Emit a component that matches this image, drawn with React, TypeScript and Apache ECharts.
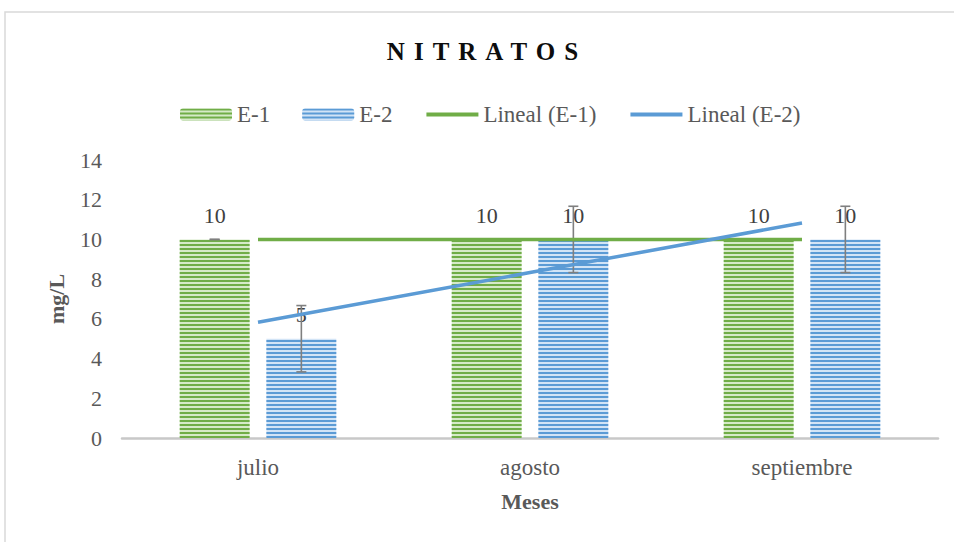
import React, { useEffect, useRef } from "react";
import * as echarts from "echarts";

const categories = ["julio", "agosto", "septiembre"];
const e1Values = [10, 10, 10];
const e2Values = [5, 10, 10];
const e1Errors = [0, 0, 0];
const e2Errors = [1.67, 1.67, 1.67];
const trendE1 = [10, 10, 10];
const trendE2 = [5.83, 8.33, 10.83];
const yTicks = { min: 0, max: 14, interval: 2 };

const SERIF = "'Liberation Serif', 'Times New Roman', serif";
const GREEN = "#70AD47";
const BLUE = "#5B9BD5";

function errData(vals: number[], errs: number[]) {
  return vals.map((v, i) => [i, v - errs[i], v + errs[i]]);
}

function makeErrSeries(name: string, vals: number[], errs: number[], sign: number) {
  return {
    type: "custom",
    name,
    z: 4,
    silent: true,
    data: errData(vals, errs),
    renderItem: (params: any, api: any) => {
      const cat = api.value(0);
      const low = api.value(1);
      const high = api.value(2);
      const band = api.size([1, 0])[0];
      const off = band * 0.1594 * sign;
      const pLow = api.coord([cat, low]);
      const pHigh = api.coord([cat, high]);
      const x = pLow[0] + off;
      const cap = 5;
      const st = { stroke: "#7f7f7f", lineWidth: 1.6 };
      return {
        type: "group",
        children: [
          { type: "line", shape: { x1: x, y1: pLow[1], x2: x, y2: pHigh[1] }, style: st },
          { type: "line", shape: { x1: x - cap, y1: pLow[1], x2: x + cap, y2: pLow[1] }, style: st },
          { type: "line", shape: { x1: x - cap, y1: pHigh[1], x2: x + cap, y2: pHigh[1] }, style: st },
        ],
      };
    },
  };
}

export default function App() {
  const ref = useRef<HTMLDivElement>(null);
  useEffect(() => {
    document.body.style.margin = "0";
    if (!ref.current) return;
    const chart = echarts.init(ref.current, null, { renderer: "svg" });
    const labelStyle = {
      show: true,
      position: "top",
      distance: 13,
      fontFamily: SERIF,
      fontSize: 22,
      color: "#404040",
    };
    chart.setOption({
      animation: false,
      backgroundColor: "#fff",
      graphic: [
        {
          type: "rect",
          shape: { x: 5, y: 12, width: 1000, height: 600 },
          style: { fill: "none", stroke: "#d9d9d9", lineWidth: 1.5 },
          z: -1,
        },
        {
          type: "text",
          x: 487,
          y: 51,
          style: {
            text: "NITRATOS",
            textAlign: "center",
            textVerticalAlign: "middle",
            fontFamily: SERIF,
            fontSize: 25,
            fontWeight: "bold",
            fill: "#0d0d0d",
          },
        },
      ],
      legend: {
        left: 175,
        top: 98,
        itemWidth: 52,
        itemHeight: 12,
        itemGap: 32,
        lineStyle: { width: 4 },
        textStyle: { fontFamily: SERIF, fontSize: 23, color: "#595959", padding: [0, 0, 0, 0] },
        data: [
          { name: "E-1" },
          { name: "E-2" },
          { name: "Lineal (E-1)", itemStyle: { opacity: 0 } },
          { name: "Lineal (E-2)", itemStyle: { opacity: 0 } },
        ],
      },
      grid: { left: 122, right: 16, top: 160, bottom: 104 },
      xAxis: {
        type: "category",
        data: categories,
        axisTick: { show: false },
        axisLine: { lineStyle: { color: "#c8c8c8", width: 2.5 } },
        axisLabel: { fontFamily: SERIF, fontSize: 23, color: "#595959", margin: 18 },
        name: "Meses",
        nameLocation: "middle",
        nameGap: 52,
        nameTextStyle: { fontFamily: SERIF, fontSize: 22, fontWeight: "bold", color: "#595959" },
      },
      yAxis: {
        type: "value",
        min: yTicks.min,
        max: yTicks.max,
        interval: yTicks.interval,
        splitLine: { show: false },
        axisLine: { show: false },
        axisTick: { show: false },
        axisLabel: { fontFamily: SERIF, fontSize: 22, color: "#595959", margin: 20 },
        name: "mg/L",
        nameLocation: "middle",
        nameGap: 55,
        nameTextStyle: { fontFamily: SERIF, fontSize: 22, fontWeight: "bold", color: "#595959" },
      },
      series: [
        {
          type: "bar",
          name: "E-1",
          data: e1Values,
          barWidth: "25.7%",
          barGap: "24%",
          itemStyle: {
            color: "#d6eac8",
            decal: {
              symbol: "rect",
              symbolSize: 1,
              dashArrayX: [1, 0],
              dashArrayY: [1.7, 1.9],
              rotation: 0,
              color: GREEN,
            },
          },
          label: labelStyle,
        },
        {
          type: "bar",
          name: "E-2",
          data: e2Values,
          barWidth: "25.7%",
          barGap: "24%",
          itemStyle: {
            color: "#d2e4f6",
            decal: {
              symbol: "rect",
              symbolSize: 1,
              dashArrayX: [1, 0],
              dashArrayY: [1.7, 1.9],
              rotation: 0,
              color: BLUE,
            },
          },
          label: labelStyle,
        },
        makeErrSeries("errE1", e1Values, e1Errors, -1),
        makeErrSeries("errE2", e2Values, e2Errors, 1),
        {
          type: "line",
          name: "Lineal (E-1)",
          data: trendE1,
          symbol: "none",
          z: 5,
          lineStyle: { color: GREEN, width: 3.5 },
          itemStyle: { color: GREEN },
        },
        {
          type: "line",
          name: "Lineal (E-2)",
          data: trendE2,
          symbol: "none",
          z: 5,
          lineStyle: { color: BLUE, width: 3.5 },
          itemStyle: { color: BLUE },
        },
      ],
    });
    const applySpacing = () => {
      const texts = ref.current?.querySelectorAll("text") || [];
      texts.forEach((t) => {
        if (t.textContent === "NITRATOS") t.setAttribute("letter-spacing", "9px");
      });
    };
    applySpacing();
    chart.on("finished", applySpacing);
    return () => chart.dispose();
  }, []);
  return <div ref={ref} style={{ width: 954, height: 542 }} />;
}
